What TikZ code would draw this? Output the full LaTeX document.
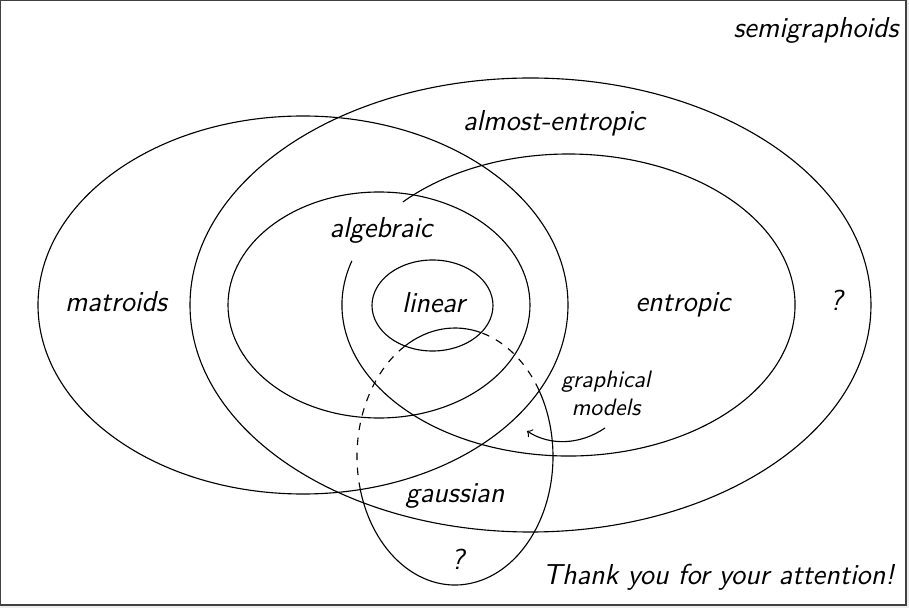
\documentclass[tikz,border=0pt]{standalone}
\usetikzlibrary{calc}
\begin{document}
\begin{tikzpicture}[x=0.4pt,y=0.4pt,
  setline/.style={line width=0.45pt},
  lbl/.style={font=\fontsize{11.55}{14}\selectfont\sffamily\slshape, inner sep=0pt, anchor=base},
  smalllbl/.style={font=\fontsize{9.5}{11.2}\selectfont\sffamily\slshape, inner sep=0pt, align=center}]
\fill[black!7] (0,0) rectangle (909,608);
\useasboundingbox (0,0) rectangle (909,608);
\draw[fill=white, draw=black!75, line width=0.6pt] (0.75,3) rectangle (906,607.25);

% matroids
\draw[setline] (303,303) ellipse [x radius=265, y radius=189];
% almost-entropic
\draw[setline] (530.5,303) ellipse [x radius=340.5, y radius=227];
% algebraic
\draw[setline] (379,303) ellipse [x radius=151, y radius=113];
% linear
\draw[setline] (432.5,302.5) ellipse [x radius=60.5, y radius=45.5];
% entropic (open arc)
\draw[setline] (568.5,303) ++(163:226.5 and 151) arc[start angle=163, end angle=497, x radius=226.5, y radius=151];
% gaussian
\draw[setline] (455,151.5) ++(74.5:98 and 128.5) arc[start angle=74.5, end angle=121, x radius=98, y radius=128.5];
\draw[setline, dashed] (455,151.5) ++(121:98 and 128.5) arc[start angle=121, end angle=195, x radius=98, y radius=128.5];
\draw[setline] (455,151.5) ++(195:98 and 128.5) arc[start angle=195, end angle=391, x radius=98, y radius=128.5];
\draw[setline, dashed] (455,151.5) ++(31:98 and 128.5) arc[start angle=31, end angle=74.5, x radius=98, y radius=128.5];

% labels
\node[lbl] (semi) at (816,570) {semigraphoids};
\node[lbl] (almost) at (554,477.5) {almost-entropic};
\node[lbl] (alg) at (381,370) {algebraic};
\node[lbl] (mat) at (116,296.5) {matroids};
\node[lbl] (lin) at (433.5,295.5) {linear};
\node[lbl] (ent) at (683,296.5) {entropic};
\node[lbl] (q1) at (836,297) {?};
\node[lbl] (gau) at (455,105.5) {gaussian};
\node[lbl] (q2) at (457.5,38.5) {?};
\node[lbl] (thanks) at (718.5,23) {Thank you for your attention!};
\node[smalllbl] (gm) at (606,215) {graphical\\models};

% arrow
\coordinate (gmstart) at (605,180);
\coordinate (gmend) at (527,177);
\draw[setline, ->] (gmstart) .. controls (580,163) and (550,162) .. (gmend);
\end{tikzpicture}
\end{document}
